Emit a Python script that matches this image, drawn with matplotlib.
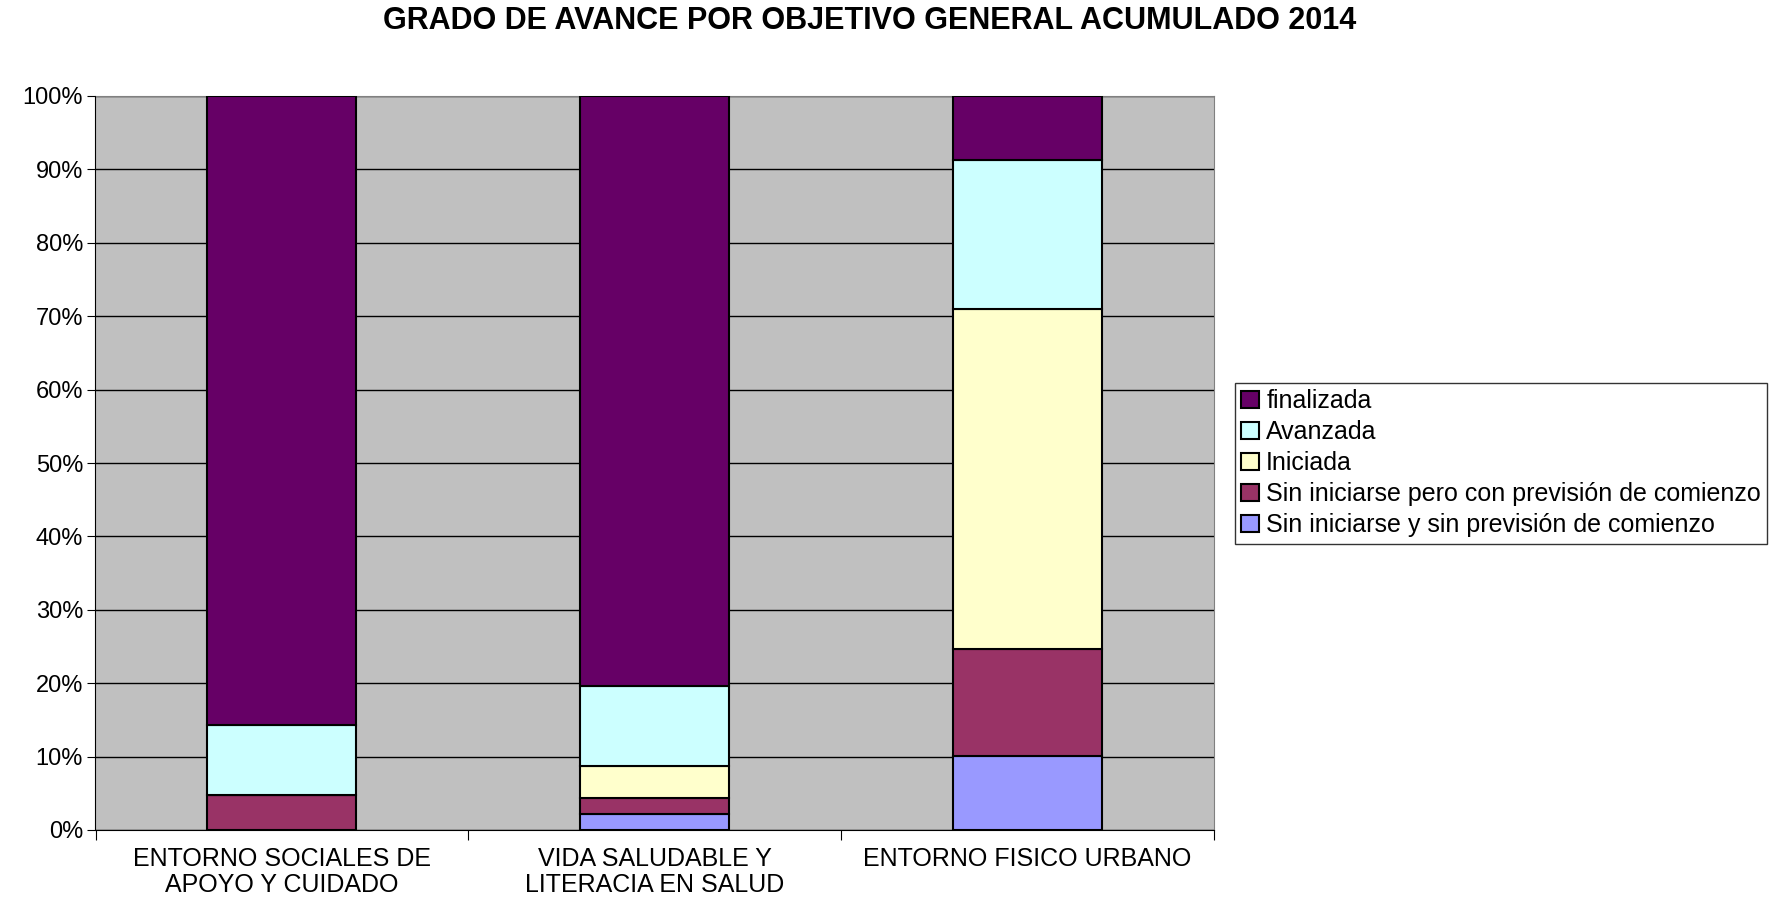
import matplotlib.pyplot as plt
import numpy as np

plt.rcParams['font.family'] = ['Liberation Sans', 'DejaVu Sans']

# Data (percent of actions per objective)
categories = ['ENTORNO SOCIALES DE\nAPOYO Y CUIDADO',
              'VIDA SALUDABLE Y\nLITERACIA EN SALUD',
              'ENTORNO FISICO URBANO']
series_names = ['Sin iniciarse y sin previsión de comienzo',
                'Sin iniciarse pero con previsión de comienzo',
                'Iniciada',
                'Avanzada',
                'finalizada']
sin_sin = [0.0, 2.17, 10.14]
sin_con = [4.76, 2.17, 14.49]
iniciada = [0.0, 4.35, 46.38]
avanzada = [9.52, 10.87, 20.29]
finalizada = [85.71, 80.43, 8.70]
colors = ['#9999FF', '#993366', '#FFFFCC', '#CCFFFF', '#660066']

values = [sin_sin, sin_con, iniciada, avanzada, finalizada]

fig = plt.figure(figsize=(17.83, 8.98), dpi=100)
ax = fig.add_axes([95.5 / 1783, 1 - 830 / 898, (1214 - 95.5) / 1783, (830 - 96) / 898])
ax.set_facecolor('#C0C0C0')

x = np.arange(len(categories))
bottom = np.zeros(len(categories))
bars = []
for name, vals, c in zip(series_names, values, colors):
    vals = np.array(vals)
    b = ax.bar(x, vals, 0.4, bottom=bottom, color=c, edgecolor='black',
               linewidth=1.5, label=name, zorder=3)
    bars.append(b)
    bottom += vals

ax.set_xlim(-0.5, len(categories) - 0.5)
ax.set_ylim(0, 100)
ax.set_yticks(np.arange(0, 101, 10))
ax.set_yticklabels(['%d%%' % v for v in range(0, 101, 10)], fontsize=17)
ax.yaxis.grid(True, color='black', linewidth=1, zorder=0)
ax.set_axisbelow(True)

ax.set_xticks(np.arange(-0.5, len(categories), 1.0))
ax.set_xticklabels([])
ax.set_xticks(x, minor=True)
ax.set_xticklabels(categories, minor=True, fontsize=18, linespacing=1.1)
ax.tick_params(axis='x', which='minor', length=0, pad=12)
ax.tick_params(axis='x', which='major', length=7, color='black')
ax.tick_params(axis='y', length=6, pad=3)

for s in ['top', 'right']:
    ax.spines[s].set_color('#808080')
ax.spines['left'].set_color('black')
ax.spines['bottom'].set_color('black')

fig.suptitle('GRADO DE AVANCE POR OBJETIVO GENERAL ACUMULADO 2014',
             fontsize=22, fontweight='bold', x=870 / 1783, y=1 - 6 / 898, va='top')

handles = bars[::-1]
labels = series_names[::-1]
leg = fig.legend(handles, labels, loc='upper left',
                 bbox_to_anchor=(1235 / 1783, 1 - 383 / 898),
                 fontsize=18, frameon=True, fancybox=False, edgecolor='black',
                 handlelength=0.7, handleheight=0.7, handletextpad=0.3,
                 labelspacing=0.28, borderpad=0.25, borderaxespad=0)
leg.get_frame().set_linewidth(1)

fig.savefig('out.png', dpi=100)
